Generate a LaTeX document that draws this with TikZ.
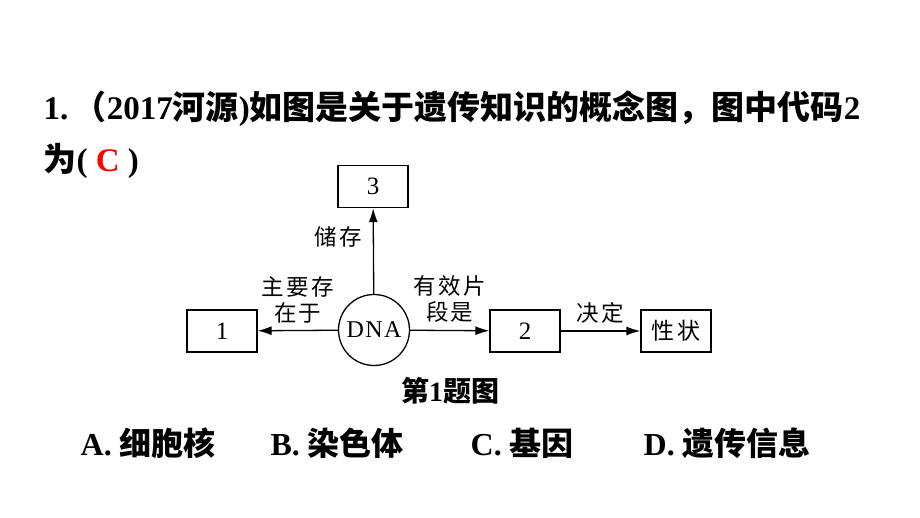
\documentclass[tikz,border=0pt]{standalone}
\usepackage{fontspec}
\usetikzlibrary{arrows.meta}
\setmainfont{Liberation Serif}
\newfontfamily\cjk{Noto Sans CJK SC}
\newfontfamily\cjkweit[LetterSpace=10]{Noto Sans CJK SC}
\newfontfamily\serifweit[LetterSpace=6]{Liberation Serif}
\def\zh#1{{\cjk\bfseries #1}}
\def\fett#1{{\bfseries #1}}
\def\gross{\fontsize{33}{40}\selectfont}
\def\mittel{\fontsize{32}{38}\selectfont}
\def\klein{\fontsize{22.5}{26}\selectfont}
\begin{document}
\begin{tikzpicture}[x=1pt,y=-1pt,line width=1.3pt,
	>={Latex[length=14pt,width=9pt]},
	kasten/.style={draw,minimum width=70pt,minimum height=42pt,inner sep=0pt},
	zahl/.style={font=\serifweit\fontsize{25}{28}\selectfont},
	kreis/.style={draw,circle,minimum size=71pt,inner sep=0pt,font=\serifweit\fontsize{24}{28}\selectfont},
	beschriftung/.style={font=\cjkweit\klein,align=center,inner sep=0pt},
	zeile/.style={anchor=base west,inner sep=0pt}]
	\useasboundingbox (0,0) rectangle (920,518);

	\node[zeile] (frage) at (43,120) {\gross\fett{1.}\,\zh{（}\fett{2017}\zh{河源}\fett{)}\zh{如图是关于遗传知识的概念图，图中代码}\fett{2}};
	\node[zeile] (antwort) at (43,172) {\gross\zh{为}\fett{( \textcolor{red}{C} )}};

	\node[kreis] (dna) at (374,330) {DNA};
	\node[kasten,zahl] (drei) at (373,186.5) {3};
	\node[kasten,zahl] (eins) at (222,331) {1};
	\node[kasten,zahl] (zwei) at (525,331) {2};
	\node[kasten,font=\cjkweit\fontsize{23}{26}\selectfont] (merkmal) at (676,331) {性状};

	\draw[->] (dna) -- (drei) node[beschriftung,pos=0.66,left=11pt] (speichern) {储存};
	\draw[->] (dna) -- (eins) node[beschriftung,midway,above=7pt] (ort) {主要存\\在于};
	\draw[->] (dna) -- (zwei) node[beschriftung,midway,above=7pt] (abschnitt) {有效片\\段是};
	\draw[->] (zwei) -- (merkmal) node[beschriftung,midway,above=7pt] (bestimmen) {决定};

	\node[anchor=base,inner sep=0pt] (titel) at (450,401) {\fontsize{28}{34}\selectfont\zh{第}\fett{1}\zh{题图}};

	\node[zeile] (a) at (80,455) {\mittel\fett{A.}\ \zh{细胞核}};
	\node[zeile] (b) at (270,455) {\mittel\fett{B.}\ \zh{染色体}};
	\node[zeile] (c) at (470,455) {\mittel\fett{C.}\ \zh{基因}};
	\node[zeile] (d) at (643,455) {\mittel\fett{D.}\ \zh{遗传信息}};
\end{tikzpicture}
\end{document}
